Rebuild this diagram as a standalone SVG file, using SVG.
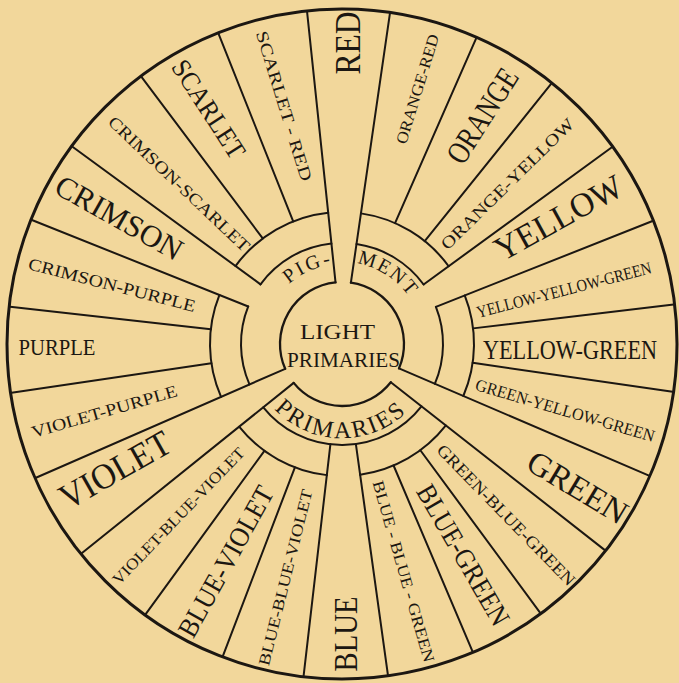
<svg xmlns="http://www.w3.org/2000/svg" width="679" height="683" viewBox="0 0 679 683">
<defs>
<style>
.ln{fill:none;stroke:#1c1712;stroke-width:2;stroke-linecap:round}
.oc{fill:none;stroke:#1c1712;stroke-width:3}
.ic{fill:none;stroke:#1c1712;stroke-width:2.3;stroke-linecap:round}
text{font-family:"Liberation Serif","DejaVu Serif",serif;fill:#1c1712;text-anchor:middle}
</style>
<path id="pPig" d="M-61.28,-51.42 A80,80 0 0 1 2.79,-79.95"/>
<path id="pMent" d="M7.15,-81.69 A82,82 0 0 1 71.72,-39.75"/>
<path id="pPrim" d="M-77.93,52.56 A94,94 0 0 0 76.05,55.25"/>
</defs>
<rect width="679" height="683" fill="#F2D79B"/>
<g id="wheel" transform="translate(342,344)">
<circle class="oc" r="335"/>
<g id="connectors">
<g id="light-spokes" class="ln">
<line y1="-62" y2="-334" transform="rotate(354)"/>
<line y1="-62" y2="-334" transform="rotate(8.25)"/>
<line y1="-62" y2="-334" transform="rotate(113.2)"/>
<line y1="-62" y2="-334" transform="rotate(128.1)"/>
<line y1="-62" y2="-334" transform="rotate(231.2)"/>
<line y1="-62" y2="-334" transform="rotate(246.4)"/>
</g>
<g id="pigment-spokes" class="ln">
<line y1="-101" y2="-334" transform="rotate(291.8)"/>
<line y1="-101" y2="-334" transform="rotate(306.2)"/>
<line y1="-101" y2="-334" transform="rotate(53.9)"/>
<line y1="-101" y2="-334" transform="rotate(68.4)"/>
<line y1="-101" y2="-334" transform="rotate(172.1)"/>
<line y1="-101" y2="-334" transform="rotate(186.6)"/>
</g>
<g id="other-spokes" class="ln">
<line y1="-132" y2="-334" transform="rotate(23.7)"/>
<line y1="-132" y2="-334" transform="rotate(38.8)"/>
<line y1="-132" y2="-334" transform="rotate(83.2)"/>
<line y1="-132" y2="-334" transform="rotate(98.2)"/>
<line y1="-132" y2="-334" transform="rotate(143.6)"/>
<line y1="-132" y2="-334" transform="rotate(157)"/>
<line y1="-132" y2="-334" transform="rotate(200.9)"/>
<line y1="-132" y2="-334" transform="rotate(216)"/>
<line y1="-132" y2="-334" transform="rotate(261.6)"/>
<line y1="-132" y2="-334" transform="rotate(276.4)"/>
<line y1="-132" y2="-334" transform="rotate(323.1)"/>
<line y1="-132" y2="-334" transform="rotate(338.3)"/>
</g>
<g id="inner-circle" class="ic">
<path d="M8.90,-61.36 A62,62 0 0 1 56.99,24.42"/>
<path d="M48.79,38.26 A62,62 0 0 1 -48.32,38.85"/>
<path d="M-56.82,24.82 A62,62 0 0 1 -6.48,-61.66"/>
</g>
<g id="ring-101" class="ln">
<path d="M14.49,-99.95 A101,101 0 0 1 81.61,-59.51"/>
<path d="M93.91,-37.18 A101,101 0 0 1 92.83,39.79"/>
<path d="M79.48,62.32 A101,101 0 0 1 -78.71,63.29"/>
<path d="M-92.55,40.44 A101,101 0 0 1 -93.78,-37.51"/>
<path d="M-81.50,-59.65 A101,101 0 0 1 -10.56,-100.45"/>
</g>
<g id="ring-132" class="ln">
<path d="M18.94,-130.63 A132,132 0 0 1 106.65,-77.77"/>
<path d="M122.73,-48.59 A132,132 0 0 1 121.33,52.00"/>
<path d="M103.88,81.45 A132,132 0 0 1 18.14,130.75"/>
<path d="M-15.17,131.12 A132,132 0 0 1 -102.87,82.71"/>
<path d="M-120.96,52.85 A132,132 0 0 1 -122.56,-49.02"/>
<path d="M-106.52,-77.96 A132,132 0 0 1 -13.80,-131.28"/>
</g>
</g>
<g id="center-labels">
<text id="t-pig" font-size="20" letter-spacing="2.5"><textPath href="#pPig" startOffset="50%">PIG-</textPath></text>
<text id="t-ment" font-size="20" letter-spacing="2"><textPath href="#pMent" startOffset="50%">MENT</textPath></text>
<text id="t-primaries-band" font-size="24" letter-spacing="2.2"><textPath href="#pPrim" startOffset="50%">PRIMARIES</textPath></text>
<text id="t-light" x="-4.5" y="-5" font-size="21" textLength="75" lengthAdjust="spacingAndGlyphs">LIGHT</text>
<text id="t-primaries" x="1.5" y="23" font-size="21" textLength="113" lengthAdjust="spacingAndGlyphs">PRIMARIES</text>
</g>
</g>
<g id="labels">
<g id="seg-red"><text transform="translate(348,43) rotate(-90)" y="11.5" font-size="35" textLength="63" lengthAdjust="spacingAndGlyphs">RED</text></g>
<g id="seg-orange-red"><text transform="translate(417.5,89) rotate(-73)" y="5.3" font-size="16" textLength="114" lengthAdjust="spacingAndGlyphs">ORANGE-RED</text></g>
<g id="seg-orange"><text transform="translate(482.5,116) rotate(-57.5)" y="10.5" font-size="32" textLength="106" lengthAdjust="spacingAndGlyphs">ORANGE</text></g>
<g id="seg-orange-yellow"><text transform="translate(507.5,184) rotate(-44.5)" y="5.6" font-size="17" textLength="179" lengthAdjust="spacingAndGlyphs">ORANGE-YELLOW</text></g>
<g id="seg-yellow"><text transform="translate(558.5,218) rotate(-29)" y="11.2" font-size="34" textLength="141" lengthAdjust="spacingAndGlyphs">YELLOW</text></g>
<g id="seg-yellow-yellow-green"><text transform="translate(564,290) rotate(-14.5)" y="5.6" font-size="17" textLength="180" lengthAdjust="spacingAndGlyphs">YELLOW-YELLOW-GREEN</text></g>
<g id="seg-yellow-green"><text transform="translate(570,350)" y="9" font-size="27" textLength="174" lengthAdjust="spacingAndGlyphs">YELLOW-GREEN</text></g>
<g id="seg-green-yellow-green"><text transform="translate(565,410.5) rotate(16.3)" y="5.6" font-size="17" textLength="186" lengthAdjust="spacingAndGlyphs">GREEN-YELLOW-GREEN</text></g>
<g id="seg-green"><text transform="translate(577.5,487.5) rotate(31)" y="10.9" font-size="33" textLength="111" lengthAdjust="spacingAndGlyphs">GREEN</text></g>
<g id="seg-green-blue-green"><text transform="translate(506,515) rotate(45.7)" y="5.6" font-size="17" textLength="190" lengthAdjust="spacingAndGlyphs">GREEN-BLUE-GREEN</text></g>
<g id="seg-blue-green"><text transform="translate(463,555) rotate(60)" y="9.2" font-size="28" textLength="158" lengthAdjust="spacingAndGlyphs">BLUE-GREEN</text></g>
<g id="seg-blue-blue-green"><text transform="translate(403.5,571.5) rotate(74)" y="5.3" font-size="16" textLength="188" lengthAdjust="spacingAndGlyphs">BLUE - BLUE - GREEN</text></g>
<g id="seg-blue"><text transform="translate(346,634) rotate(-90)" y="11.2" font-size="34" textLength="75" lengthAdjust="spacingAndGlyphs">BLUE</text></g>
<g id="seg-blue-blue-violet"><text transform="translate(285.5,577.5) rotate(-76)" y="5.3" font-size="16" textLength="181" lengthAdjust="spacingAndGlyphs">BLUE-BLUE-VIOLET</text></g>
<g id="seg-blue-violet"><text transform="translate(226,561.5) rotate(-61)" y="9.2" font-size="28" textLength="168" lengthAdjust="spacingAndGlyphs">BLUE-VIOLET</text></g>
<g id="seg-violet-blue-violet"><text transform="translate(178.5,516) rotate(-46.2)" y="5.3" font-size="16" textLength="183" lengthAdjust="spacingAndGlyphs">VIOLET-BLUE-VIOLET</text></g>
<g id="seg-violet"><text transform="translate(115,470) rotate(-29.5)" y="11.9" font-size="36" textLength="122" lengthAdjust="spacingAndGlyphs">VIOLET</text></g>
<g id="seg-violet-purple"><text transform="translate(104.5,411.5) rotate(-16.2)" y="5.6" font-size="17" textLength="151" lengthAdjust="spacingAndGlyphs">VIOLET-PURPLE</text></g>
<g id="seg-purple"><text transform="translate(57,347)" y="7.9" font-size="24" textLength="77" lengthAdjust="spacingAndGlyphs">PURPLE</text></g>
<g id="seg-crimson-purple"><text transform="translate(112,285) rotate(14.5)" y="5.6" font-size="17" textLength="172" lengthAdjust="spacingAndGlyphs">CRIMSON-PURPLE</text></g>
<g id="seg-crimson"><text transform="translate(119,218) rotate(29.5)" y="10.2" font-size="31" textLength="141" lengthAdjust="spacingAndGlyphs">CRIMSON</text></g>
<g id="seg-crimson-scarlet"><text transform="translate(179,184) rotate(43.5)" y="5.6" font-size="17" textLength="188" lengthAdjust="spacingAndGlyphs">CRIMSON-SCARLET</text></g>
<g id="seg-scarlet"><text transform="translate(208.5,109) rotate(57)" y="8.9" font-size="27" textLength="112" lengthAdjust="spacingAndGlyphs">SCARLET</text></g>
<g id="seg-scarlet-red"><text transform="translate(284,106) rotate(73)" y="5.6" font-size="17" textLength="156" lengthAdjust="spacingAndGlyphs">SCARLET - RED</text></g>
</g>
</svg>
